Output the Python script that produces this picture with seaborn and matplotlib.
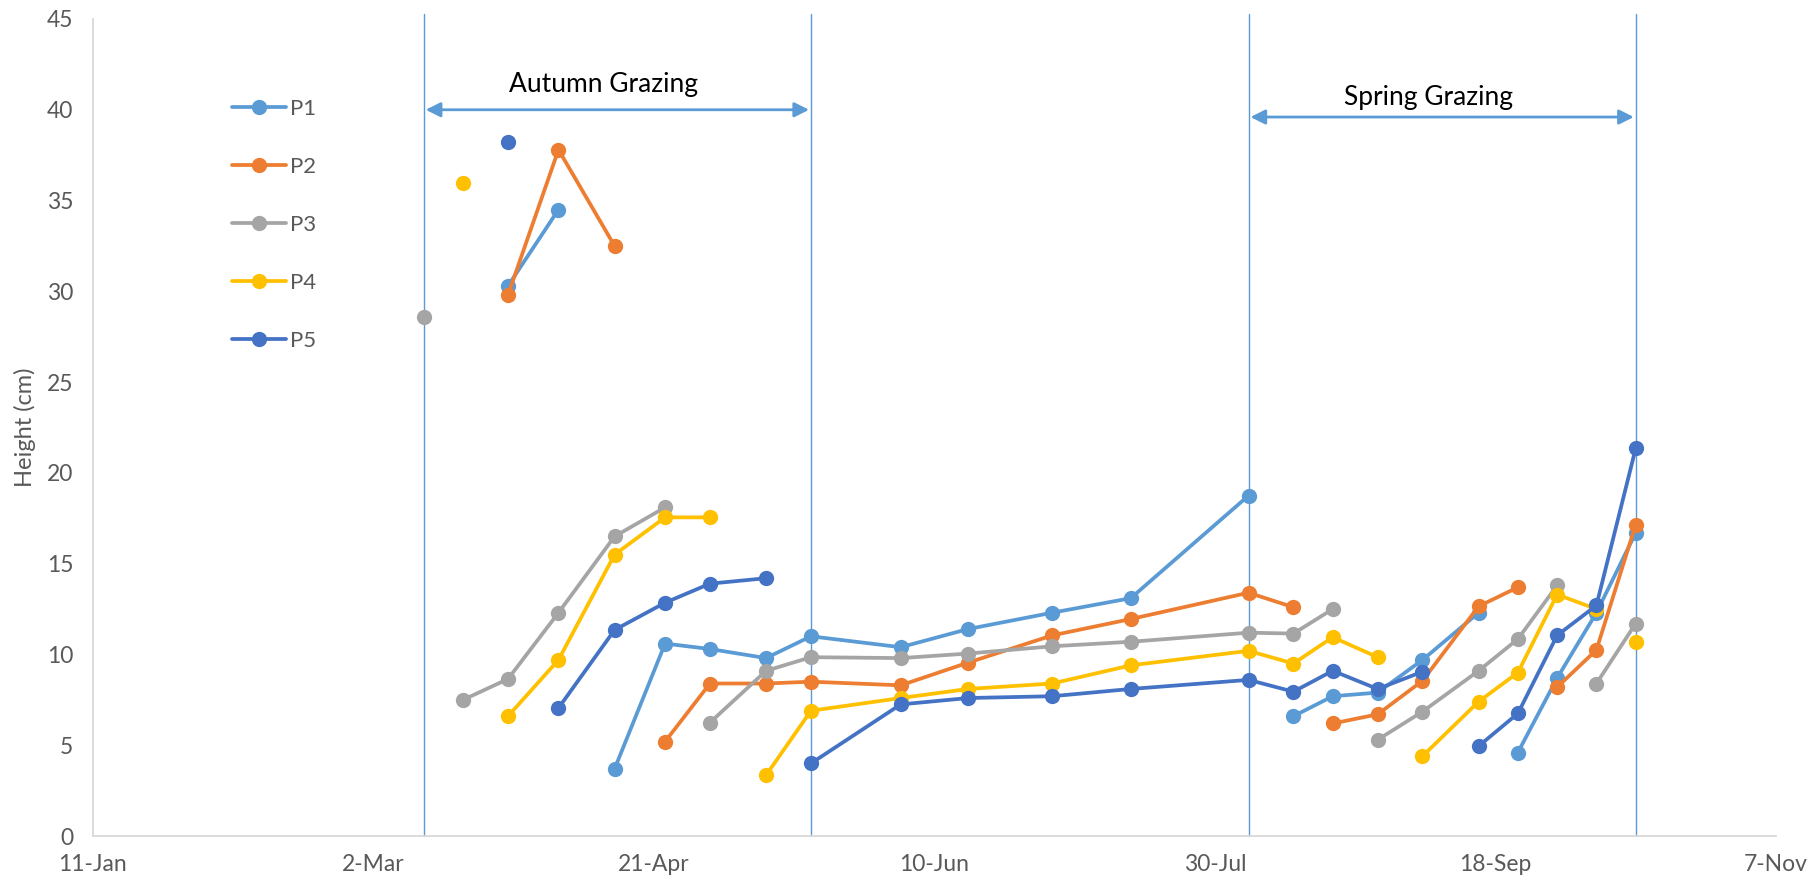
import matplotlib
matplotlib.use("Agg")
import matplotlib.pyplot as plt
from matplotlib.lines import Line2D
import seaborn as sns
import pandas as pd

YEAR = "2019"

# Sampling dates
dates = ["11-Mar", "18-Mar", "26-Mar", "4-Apr", "14-Apr", "23-Apr", "1-May", "11-May",
         "19-May", "4-Jun", "16-Jun", "1-Jul", "15-Jul", "5-Aug", "13-Aug", "20-Aug",
         "28-Aug", "5-Sep", "15-Sep", "22-Sep", "29-Sep", "6-Oct", "13-Oct"]

# Each paddock: list of (index of first date, consecutive heights) segments
P1 = [(2, [30.3, 34.5]),
      (4, [3.7, 10.6, 10.3, 9.8, 11.0, 10.4, 11.4, 12.3, 13.1, 18.75]),
      (14, [6.6, 7.7, 7.9, 9.7, 12.3]),
      (19, [4.6, 8.7, 12.3, 16.7])]
P2 = [(2, [29.8, 37.8, 32.5]),
      (5, [5.2, 8.4, 8.4, 8.5, 8.3, 9.55, 11.05, 11.95, 13.4, 12.6]),
      (15, [6.2, 6.7, 8.55, 12.65, 13.7]),
      (20, [8.2, 10.25, 17.15])]
P3 = [(0, [28.6]),
      (1, [7.5, 8.65, 12.3, 16.5, 18.1]),
      (6, [6.25, 9.1, 9.85, 9.8, 10.05, 10.45, 10.7, 11.2, 11.15, 12.5]),
      (16, [5.3, 6.85, 9.1, 10.85, 13.8]),
      (21, [8.4, 11.7])]
P4 = [(1, [35.95]),
      (2, [6.6, 9.7, 15.5, 17.55, 17.55]),
      (7, [3.35, 6.9, 7.6, 8.1, 8.4, 9.4, 10.2, 9.5, 10.95, 9.85]),
      (17, [4.4, 7.4, 9.0, 13.3, 12.5]),
      (22, [10.7])]
P5 = [(2, [38.2]),
      (3, [7.05, 11.35, 12.85, 13.9, 14.2]),
      (8, [4.0, 7.25, 7.6, 7.7, 8.1, 8.6, 7.95, 9.1, 8.1, 9.05]),
      (18, [4.95, 6.75, 11.05, 12.7, 21.35])]

series_names = ["P1", "P2", "P3", "P4", "P5"]
series_data = [P1, P2, P3, P4, P5]
colors = ["#5B9BD5", "#ED7D31", "#A5A5A5", "#FFC000", "#4472C4"]

x_ticks = ["11-Jan", "2-Mar", "21-Apr", "10-Jun", "30-Jul", "18-Sep", "7-Nov"]
y_ticks = [0, 5, 10, 15, 20, 25, 30, 35, 40, 45]

grazing_lines = ["11-Mar", "19-May", "5-Aug", "13-Oct"]
periods = [("Autumn Grazing", "11-Mar", "19-May", 40.0, 41.4, "12-Apr"),
           ("Spring Grazing", "5-Aug", "13-Oct", 39.6, 40.7, "6-Sep")]


def to_date(s):
    return pd.to_datetime(s + "-" + YEAR, format="%d-%b-%Y")


rows = []
for name, segs in zip(series_names, series_data):
    for k, (start, vals) in enumerate(segs):
        for j, v in enumerate(vals):
            rows.append({"date": to_date(dates[start + j]), "height": v,
                         "paddock": name, "seg": f"{name}-{k}"})
df = pd.DataFrame(rows)

sns.set_theme(style="white")
plt.rcParams["font.family"] = ["Lato", "DejaVu Sans"]

fig = plt.figure(figsize=(18.2, 8.83), dpi=100)
ax = fig.add_axes([0.051, 0.0532, 0.9248, 0.9253])

grey_axis = "#D9D9D9"
txt_grey = "#595959"

for d in grazing_lines:
    ax.plot([to_date(d), to_date(d)], [0, 45.3], color="#5B9BD5", lw=1.0,
            clip_on=False, zorder=1)

for name, col in zip(series_names, colors):
    sub = df[df["paddock"] == name]
    sns.lineplot(data=sub, x="date", y="height", units="seg", estimator=None,
                 color=col, marker="o", markersize=11, markeredgewidth=0,
                 linewidth=2.7, ax=ax, legend=False, sort=False, zorder=3)

for label, a, b, yarr, ytxt, xtxt in periods:
    xa = to_date(a) + pd.Timedelta(hours=8)
    xb = to_date(b) - pd.Timedelta(hours=8)
    ax.annotate("", xy=(xb, yarr), xytext=(xa, yarr),
                arrowprops=dict(arrowstyle="<|-|>", color="#5B9BD5", lw=2,
                                mutation_scale=22, shrinkA=0, shrinkB=0))
    ax.text(to_date(xtxt), ytxt, label, ha="center", va="center",
            fontsize=19, color="black")

ax.set_xlim(to_date(x_ticks[0]), to_date(x_ticks[-1]))
ax.set_ylim(0, 45)
ax.set_xticks([to_date(t) for t in x_ticks])
ax.set_xticklabels(x_ticks)
ax.set_yticks(y_ticks)
ax.set_yticklabels([str(v) for v in y_ticks])
ax.tick_params(axis="both", colors=grey_axis, labelcolor=txt_grey,
               labelsize=16.5, length=6, width=1.3, direction="out")
ax.tick_params(axis="x", pad=7)
ax.tick_params(axis="y", pad=8)
ax.set_xlabel("")
ax.set_ylabel("Height (cm)", fontsize=17, color=txt_grey, labelpad=8)

for s in ["top", "right"]:
    ax.spines[s].set_visible(False)
for s in ["left", "bottom"]:
    ax.spines[s].set_color(grey_axis)
    ax.spines[s].set_linewidth(1.3)

handles = [Line2D([0], [0], color=c, lw=2.7, marker="o", markersize=11,
                  markeredgewidth=0) for c in colors]
leg = ax.legend(handles, series_names, loc="upper left",
                bbox_to_anchor=(0.071, 0.9265), frameon=False, fontsize=16,
                labelspacing=1.71, handlelength=2.4, handletextpad=0.2)
for t in leg.get_texts():
    t.set_color(txt_grey)

fig.savefig("out.png", dpi=100)
